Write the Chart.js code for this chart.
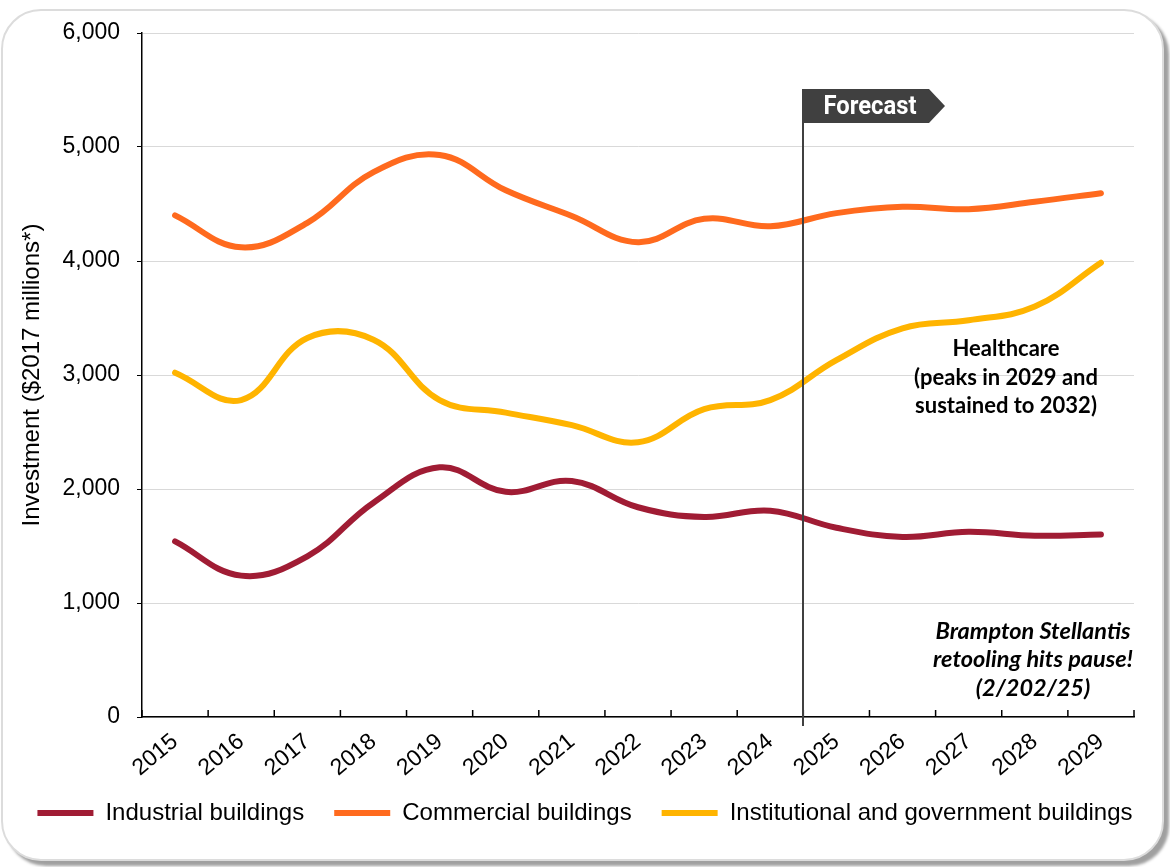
<!DOCTYPE html>
<html><head><meta charset="utf-8">
<script src="https://cdn.jsdelivr.net/npm/chart.js@4.4.1/dist/chart.umd.min.js"></script>
<style>
html,body{margin:0;padding:0;background:#fff;width:1170px;height:867px;overflow:hidden;}
#card{position:absolute;left:1px;top:9px;width:1159px;height:848px;border:2px solid #dcdcdc;border-radius:40px;box-shadow:5px 5px 3px #a0a0a0;background:#fff;}
#wrap{position:absolute;left:0;top:0;width:1170px;height:867px;}
</style></head><body>
<div id="card"></div>
<div id="wrap"><canvas id="c" width="1170" height="867"></canvas></div>
<script>
const years = ['2015','2016','2017','2018','2019','2020','2021','2022','2023','2024','2025','2026','2027','2028','2029'];
const industrial = [1540,1240,1410,1880,2190,1975,2070,1840,1755,1810,1660,1580,1625,1590,1600];
const commercial = [4400,4120,4335,4780,4930,4620,4395,4165,4370,4305,4420,4475,4455,4520,4595];
const institutional = [3020,2780,3325,3310,2780,2670,2560,2410,2700,2780,3130,3410,3480,3600,3985];
const seriesNames = ['Industrial buildings','Commercial buildings','Institutional and government buildings'];
const yTicks = [0,1000,2000,3000,4000,5000,6000];
const forecastStart = '2025';
const noteHealth = ['Healthcare','(peaks in 2029 and','sustained to 2032)'];
const noteAuto = ['Brampton Stellantis','retooling hits pause!','(2/202/25)'];

const FONT = "'Liberation Sans', Arial, sans-serif";

const annot = {
  id: 'annot',
  beforeDraw(chart) {
    const xs = chart.scales.x;
    xs.bottom = xs.top + 90;
  },
  afterDatasetsDraw(chart) {
    const ctx = chart.ctx, xs = chart.scales.x, a = chart.chartArea;
    const i = years.indexOf(forecastStart);
    const fx = Math.round((xs.getPixelForValue(i) + xs.getPixelForValue(i - 1)) / 2);
    ctx.save();
    const step = xs.getPixelForValue(1) - xs.getPixelForValue(0);
    ctx.strokeStyle = '#000'; ctx.lineWidth = 1.5;
    for (let k = 0; k <= years.length; k++) {
      const x = xs.getPixelForValue(0) - step / 2 + k * step;
      ctx.beginPath(); ctx.moveTo(x, a.bottom); ctx.lineTo(x, a.bottom - 7); ctx.stroke();
    }
    ctx.strokeStyle = '#404040'; ctx.lineWidth = 2;
    ctx.beginPath(); ctx.moveTo(fx, 90); ctx.lineTo(fx, a.bottom + 9); ctx.stroke();
    ctx.fillStyle = '#404040';
    ctx.beginPath();
    ctx.moveTo(fx - 1, 89); ctx.lineTo(fx + 126, 89); ctx.lineTo(fx + 142, 106);
    ctx.lineTo(fx + 126, 123); ctx.lineTo(fx - 1, 123); ctx.closePath(); ctx.fill();
    ctx.fillStyle = '#fff';
    ctx.font = "bold 25px 'Liberation Sans Narrow', Roboto, sans-serif";
    ctx.textBaseline = 'middle'; ctx.textAlign = 'center';
    const w = ctx.measureText('Forecast').width;
    ctx.translate(fx + 67, 108);
    ctx.scale(Math.min(1, 93 / w), 1);
    ctx.fillText('Forecast', 0, 0);
    ctx.restore();

    ctx.save();
    ctx.fillStyle = '#000'; ctx.textAlign = 'center'; ctx.textBaseline = 'middle';
    ctx.font = "bold 22px Lato, 'Open Sans', sans-serif";
    noteHealth.forEach((t, k) => ctx.fillText(t, 1006, 349 + k * 28.5));
    ctx.font = "italic bold 23.5px Lato, 'Open Sans', sans-serif";
    noteAuto.forEach((t, k) => ctx.fillText(t, 1033, 631 + k * 28.5));
    ctx.restore();
  }
};

const mk = (label, data, color) => ({
  label, data, borderColor: color, backgroundColor: color,
  borderWidth: 6, tension: 0.4, pointRadius: 0, pointHoverRadius: 0,
  borderCapStyle: 'round', borderJoinStyle: 'round', fill: false, yAxisID: 'y'
});

new Chart(document.getElementById('c'), {
  type: 'line',
  data: {
    labels: years,
    datasets: [
      mk(seriesNames[0], industrial, '#A01C34'),
      mk(seriesNames[1], commercial, '#FF6A1E'),
      mk(seriesNames[2], institutional, '#FFB400')
    ]
  },
  options: {
    responsive: false, animation: false, devicePixelRatio: 1,
    layout: { padding: { left: 0, right: 0, top: 33, bottom: 32 } },
    plugins: {
      tooltip: { enabled: false },
      legend: {
        position: 'bottom',
        labels: {
          usePointStyle: true, pointStyle: 'line', pointStyleWidth: 56,
          padding: 30, color: '#000', font: { family: FONT, size: 24 }
        }
      }
    },
    scales: {
      x: {
        offset: true,
        grid: { display: false },
        border: { display: true, color: '#000', width: 1.5 },
        ticks: { color: '#000', font: { family: FONT, size: 23 }, minRotation: 40, maxRotation: 40, padding: 3, autoSkip: false },
        afterFit(s) { s.height = 54; }
      },
      y: {
        min: 0, max: 6000,
        afterBuildTicks(s) { s.ticks = yTicks.map(v => ({ value: v })); },
        ticks: { color: '#000', font: { family: FONT, size: 23 }, padding: 17,
          callback: v => v.toLocaleString('en-US') },
        grid: { color: '#d9d9d9', lineWidth: 1, tickColor: '#000', tickLength: 5, drawTicks: true },
        border: { display: true, color: '#000', width: 1.5 },
        title: { display: true, text: 'Investment ($2017 millions*)', color: '#000',
          font: { family: FONT, size: 24 }, padding: { top: 18, bottom: 0 } },
        afterFit(s) { s.width = 142; }
      },
      y2: {
        position: 'right', display: true,
        grid: { display: false }, ticks: { display: false }, border: { display: false },
        afterFit(s) { s.width = 36; }
      }
    }
  },
  plugins: [annot]
});
</script>
</body></html>
